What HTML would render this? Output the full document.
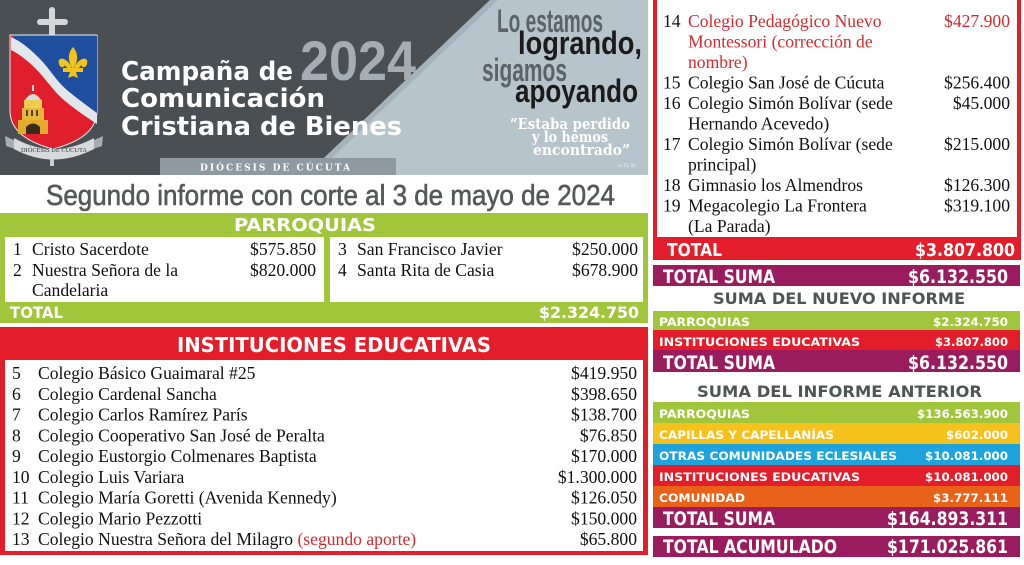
<!DOCTYPE html>
<html>
<head>
<meta charset="utf-8">
<style>
html,body{margin:0;padding:0;background:#fff;}
svg{display:block;}
.tr{font-family:"Liberation Serif","Times New Roman",serif;font-size:17.6px;fill:#111;}
.red{fill:#d42a30;}
.b{font-family:"DejaVu Sans","Liberation Sans",sans-serif;font-weight:bold;fill:#fff;}
</style>
</head>
<body>
<svg width="1024" height="565" viewBox="0 0 1024 565" xmlns="http://www.w3.org/2000/svg">
  <rect width="1024" height="565" fill="#ffffff"/>

  <!-- HEADER -->
  <rect x="0" y="0" width="648" height="175" fill="#4a4f54"/>
  <polygon points="490,0 648,0 648,175 306,175" fill="#b6c4cc"/>
  <polygon points="490,0 498,0 314,175 306,175" fill="#9aa7af" opacity="0.6"/>
  <rect x="160" y="158" width="236" height="17" fill="#8e99a1"/>
  <text x="200" y="170.5" font-family="'DejaVu Serif','Liberation Serif',serif" font-weight="bold" font-size="9" fill="#ffffff" textLength="150" lengthAdjust="spacing">DIÓCESIS DE CÚCUTA</text>

  <!-- 2024 -->
  <text x="300" y="80" font-family="'Liberation Sans',sans-serif" font-weight="bold" font-size="56" fill="#a3adb3" textLength="116" lengthAdjust="spacingAndGlyphs">2024</text>

  <!-- Title -->
  <g font-family="'DejaVu Sans','Liberation Sans',sans-serif" font-weight="bold" font-size="26" fill="#ffffff">
    <text x="121" y="80" textLength="172" lengthAdjust="spacingAndGlyphs">Campaña de</text>
    <text x="121" y="107" textLength="204" lengthAdjust="spacingAndGlyphs">Comunicación</text>
    <text x="121" y="135" textLength="281" lengthAdjust="spacingAndGlyphs">Cristiana de Bienes</text>
  </g>

  <!-- slogan -->
  <g font-family="'Liberation Sans',sans-serif" font-size="32" font-weight="bold">
    <text x="497" y="32" fill="#5b6369" textLength="106" lengthAdjust="spacingAndGlyphs">Lo estamos</text>
    <text x="518" y="54" fill="#1b1b1b" textLength="124" lengthAdjust="spacingAndGlyphs">logrando,</text>
    <text x="482" y="81" fill="#5b6369" textLength="85" lengthAdjust="spacingAndGlyphs">sigamos</text>
    <text x="515" y="102" fill="#1b1b1b" textLength="123" lengthAdjust="spacingAndGlyphs">apoyando</text>
  </g>
  <g font-family="'DejaVu Serif','Liberation Serif',serif" font-weight="bold" font-size="15" fill="#ffffff">
    <text x="510" y="129" textLength="120" lengthAdjust="spacingAndGlyphs">“Estaba perdido</text>
    <text x="532" y="142" textLength="76" lengthAdjust="spacingAndGlyphs">y lo hemos</text>
    <text x="533" y="155" textLength="97" lengthAdjust="spacingAndGlyphs">encontrado”</text>
    <text x="618" y="167" font-size="5" font-weight="normal" textLength="17" lengthAdjust="spacingAndGlyphs">Lc 15, 32</text>
  </g>

  <!-- LOGO -->
  <g>
    <rect x="49" y="9" width="6" height="27" fill="#d3d7da"/>
    <rect x="39" y="19" width="27" height="6" fill="#d3d7da"/>
    <circle cx="52" cy="10" r="3" fill="#d3d7da"/>
    <circle cx="40" cy="22" r="3" fill="#d3d7da"/>
    <circle cx="65" cy="22" r="3" fill="#d3d7da"/>
    <rect x="50" y="140" width="4" height="26" fill="#c8ccce"/>
    <path d="M10,35 L97,35 L97,112 Q96,138 53,149 Q11,138 10,112 Z" fill="#e11f2c" stroke="#e8eaec" stroke-width="1"/>
    <path d="M14,36 L97,36 L97,114 C86,106 78,100 68,92 C56,82 50,70 40,60 C30,50 22,44 14,40 Z" fill="#1f4e9e"/>
    <path d="M11,37 C22,42 30,49 40,59 C50,69 56,81 68,91 C78,99 86,105 97,113 L97,124 C85,116 76,110 65,101 C53,91 46,79 36,69 C27,60 19,54 11,50 Z" fill="#e4e7ea"/>
    <g fill="#f2c318">
      <path d="M73,47 C78,53 79,60 73,70 C67,60 68,53 73,47 Z"/>
      <path d="M71,66 C65,56 57,57 59,64 C60,68 64,68 65,65 C66,68 69,69 71,68 Z"/>
      <path d="M75,66 C81,56 89,57 87,64 C86,68 82,68 81,65 C80,68 77,69 75,68 Z"/>
      <rect x="63" y="68" width="20" height="4"/>
      <path d="M70,72 L76,72 L78,78 L73,76 L68,78 Z"/>
    </g>
    <g>
      <path d="M22,108 L44,108 L44,128 L22,128 Z" fill="#e7b73a"/>
      <path d="M24,100 L42,100 L42,108 L24,108 Z" fill="#f0cc4f"/>
      <path d="M25,100 Q33,88 41,100 Z" fill="#d9dcde"/>
      <rect x="32" y="85" width="2" height="6" fill="#d9dcde"/>
      <rect x="18" y="120" width="30" height="14" fill="#e2ab2e"/>
      <path d="M26,134 L26,127 Q33,120 40,127 L40,134 Z" fill="#3a2a18"/>
      <rect x="26" y="110" width="2" height="6" fill="#5a3f1a"/>
      <rect x="31" y="110" width="2" height="6" fill="#5a3f1a"/>
      <rect x="36" y="110" width="2" height="6" fill="#5a3f1a"/>
    </g>
    <path d="M5,136 L16,141 L18,150 L6,146 Z" fill="#a9adb0"/>
    <path d="M103,136 L92,141 L90,150 L102,146 Z" fill="#a9adb0"/>
    <path d="M14,138 Q53,160 94,138 L94,149 Q53,170 14,149 Z" fill="#d7dadc"/>
    <text x="21" y="152" font-family="'Liberation Serif',serif" font-size="6.5" fill="#333" textLength="66" lengthAdjust="spacingAndGlyphs">DIÓCESIS DE CÚCUTA</text>
  </g>

  <!-- SUBTITLE -->
  <text x="46" y="205" font-family="'Liberation Sans',sans-serif" font-size="29" fill="#555857" stroke="#555857" stroke-width="0.6" textLength="569" lengthAdjust="spacingAndGlyphs">Segundo informe con corte al 3 de mayo de 2024</text>

  <!-- PARROQUIAS -->
  <rect x="0" y="213" width="648" height="110" fill="#a1c53b"/>
  <text class="b" x="234" y="231" font-size="18" textLength="142" lengthAdjust="spacingAndGlyphs">PARROQUIAS</text>
  <rect x="5" y="237" width="319" height="65" fill="#ffffff"/>
  <rect x="330" y="237" width="313" height="65" fill="#ffffff"/>
  <g class="tr">
    <text x="13" y="255">1</text>
    <text x="32" y="255">Cristo Sacerdote</text>
    <text x="316" y="255" text-anchor="end">$575.850</text>
    <text x="13" y="276">2</text>
    <text x="32" y="276">Nuestra Señora de la</text>
    <text x="316" y="276" text-anchor="end">$820.000</text>
    <text x="32" y="296">Candelaria</text>
    <text x="338" y="255">3</text>
    <text x="357" y="255">San Francisco Javier</text>
    <text x="638" y="255" text-anchor="end">$250.000</text>
    <text x="338" y="276">4</text>
    <text x="357" y="276">Santa Rita de Casia</text>
    <text x="638" y="276" text-anchor="end">$678.900</text>
  </g>
  <text class="b" x="10" y="318" font-size="16" textLength="53" lengthAdjust="spacingAndGlyphs">TOTAL</text>
  <text class="b" x="639" y="318" font-size="16" text-anchor="end" textLength="100" lengthAdjust="spacingAndGlyphs">$2.324.750</text>

  <!-- INSTITUCIONES EDUCATIVAS -->
  <rect x="0" y="327" width="648" height="228" fill="#e31e2a"/>
  <rect x="5" y="360" width="638" height="191" fill="#ffffff"/>
  <text class="b" x="177" y="352" font-size="20" textLength="314" lengthAdjust="spacingAndGlyphs">INSTITUCIONES EDUCATIVAS</text>
  <g class="tr">
    <text x="12" y="379">5</text><text x="38" y="379">Colegio Básico Guaimaral #25</text><text x="637" y="379" text-anchor="end">$419.950</text>
    <text x="12" y="399.75">6</text><text x="38" y="399.75">Colegio Cardenal Sancha</text><text x="637" y="399.75" text-anchor="end">$398.650</text>
    <text x="12" y="420.5">7</text><text x="38" y="420.5">Colegio Carlos Ramírez París</text><text x="637" y="420.5" text-anchor="end">$138.700</text>
    <text x="12" y="441.25">8</text><text x="38" y="441.25">Colegio Cooperativo San José de Peralta</text><text x="637" y="441.25" text-anchor="end">$76.850</text>
    <text x="12" y="462">9</text><text x="38" y="462">Colegio Eustorgio Colmenares Baptista</text><text x="637" y="462" text-anchor="end">$170.000</text>
    <text x="12" y="482.75">10</text><text x="38" y="482.75">Colegio Luis Variara</text><text x="637" y="482.75" text-anchor="end">$1.300.000</text>
    <text x="12" y="503.5">11</text><text x="38" y="503.5">Colegio María Goretti (Avenida Kennedy)</text><text x="637" y="503.5" text-anchor="end">$126.050</text>
    <text x="12" y="524.25">12</text><text x="38" y="524.25">Colegio Mario Pezzotti</text><text x="637" y="524.25" text-anchor="end">$150.000</text>
    <text x="12" y="545">13</text><text x="38" y="545">Colegio Nuestra Señora del Milagro <tspan class="red">(segundo aporte)</tspan></text><text x="637" y="545" text-anchor="end">$65.800</text>
  </g>

  <!-- RIGHT PANEL -->
  <rect x="653" y="0" width="368" height="260" fill="#e31e2a"/>
  <rect x="657" y="0" width="360" height="237" fill="#ffffff"/>
  <g class="tr">
    <text x="663" y="27">14</text>
    <text x="688" y="27" class="red">Colegio Pedagógico Nuevo</text>
    <text x="1010" y="27" text-anchor="end" class="red">$427.900</text>
    <text x="688" y="47.5" class="red">Montessori (corrección de</text>
    <text x="688" y="68" class="red">nombre)</text>
    <text x="663" y="88.5">15</text><text x="688" y="88.5">Colegio San José de Cúcuta</text><text x="1010" y="88.5" text-anchor="end">$256.400</text>
    <text x="663" y="109">16</text><text x="688" y="109">Colegio Simón Bolívar (sede</text><text x="1010" y="109" text-anchor="end">$45.000</text>
    <text x="688" y="129.5">Hernando Acevedo)</text>
    <text x="663" y="150">17</text><text x="688" y="150">Colegio Simón Bolívar (sede</text><text x="1010" y="150" text-anchor="end">$215.000</text>
    <text x="688" y="170.5">principal)</text>
    <text x="663" y="191">18</text><text x="688" y="191">Gimnasio los Almendros</text><text x="1010" y="191" text-anchor="end">$126.300</text>
    <text x="663" y="211.5">19</text><text x="688" y="211.5">Megacolegio La Frontera</text><text x="1010" y="211.5" text-anchor="end">$319.100</text>
    <text x="688" y="232">(La Parada)</text>
  </g>
  <text class="b" x="667" y="256" font-size="18" textLength="55" lengthAdjust="spacingAndGlyphs">TOTAL</text>
  <text class="b" x="1015" y="256" font-size="18" text-anchor="end" textLength="100" lengthAdjust="spacingAndGlyphs">$3.807.800</text>

  <rect x="653" y="265" width="367" height="21" fill="#9b1c5e"/>
  <text class="b" x="663" y="283" font-size="19" textLength="112" lengthAdjust="spacingAndGlyphs">TOTAL SUMA</text>
  <text class="b" x="1008" y="283" font-size="19" text-anchor="end" textLength="100" lengthAdjust="spacingAndGlyphs">$6.132.550</text>

  <text x="713" y="304" font-family="'DejaVu Sans','Liberation Sans',sans-serif" font-weight="bold" font-size="16" fill="#4e5553" textLength="252" lengthAdjust="spacingAndGlyphs">SUMA DEL NUEVO INFORME</text>

  <rect x="653" y="311" width="367" height="19" fill="#a1c53b"/>
  <text class="b" x="659" y="326" font-size="11.5" textLength="91" lengthAdjust="spacingAndGlyphs">PARROQUIAS</text>
  <text class="b" x="1008" y="326" font-size="11.5" text-anchor="end" textLength="75" lengthAdjust="spacingAndGlyphs">$2.324.750</text>

  <rect x="653" y="330" width="367" height="20" fill="#e31e2a"/>
  <text class="b" x="659" y="346" font-size="11.5" textLength="201" lengthAdjust="spacingAndGlyphs">INSTITUCIONES EDUCATIVAS</text>
  <text class="b" x="1008" y="346" font-size="11.5" text-anchor="end" textLength="73" lengthAdjust="spacingAndGlyphs">$3.807.800</text>

  <rect x="653" y="350" width="367" height="22" fill="#9b1c5e"/>
  <text class="b" x="663" y="369" font-size="19" textLength="112" lengthAdjust="spacingAndGlyphs">TOTAL SUMA</text>
  <text class="b" x="1008" y="369" font-size="19" text-anchor="end" textLength="100" lengthAdjust="spacingAndGlyphs">$6.132.550</text>

  <text x="697" y="397" font-family="'DejaVu Sans','Liberation Sans',sans-serif" font-weight="bold" font-size="16" fill="#4e5553" textLength="285" lengthAdjust="spacingAndGlyphs">SUMA DEL INFORME ANTERIOR</text>

  <rect x="653" y="402" width="367" height="21" fill="#a1c53b"/>
  <text class="b" x="659" y="418" font-size="11.5" textLength="91" lengthAdjust="spacingAndGlyphs">PARROQUIAS</text>
  <text class="b" x="1008" y="418" font-size="11.5" text-anchor="end" textLength="91" lengthAdjust="spacingAndGlyphs">$136.563.900</text>

  <rect x="653" y="423" width="367" height="21" fill="#f7c11c"/>
  <text class="b" x="659" y="439" font-size="11.5" textLength="175" lengthAdjust="spacingAndGlyphs">CAPILLAS Y CAPELLANÍAS</text>
  <text class="b" x="1008" y="439" font-size="11.5" text-anchor="end" textLength="62" lengthAdjust="spacingAndGlyphs">$602.000</text>

  <rect x="653" y="444" width="367" height="21" fill="#1fa3dc"/>
  <text class="b" x="659" y="460" font-size="11.5" textLength="238" lengthAdjust="spacingAndGlyphs">OTRAS COMUNIDADES ECLESIALES</text>
  <text class="b" x="1008" y="460" font-size="11.5" text-anchor="end" textLength="83" lengthAdjust="spacingAndGlyphs">$10.081.000</text>

  <rect x="653" y="465" width="367" height="21" fill="#e31e2a"/>
  <text class="b" x="659" y="481" font-size="11.5" textLength="201" lengthAdjust="spacingAndGlyphs">INSTITUCIONES EDUCATIVAS</text>
  <text class="b" x="1008" y="481" font-size="11.5" text-anchor="end" textLength="83" lengthAdjust="spacingAndGlyphs">$10.081.000</text>

  <rect x="653" y="486" width="367" height="21" fill="#e8621a"/>
  <text class="b" x="659" y="502" font-size="11.5" textLength="86" lengthAdjust="spacingAndGlyphs">COMUNIDAD</text>
  <text class="b" x="1008" y="502" font-size="11.5" text-anchor="end" textLength="75" lengthAdjust="spacingAndGlyphs">$3.777.111</text>

  <rect x="653" y="507" width="367" height="21" fill="#9b1c5e"/>
  <text class="b" x="663" y="525" font-size="19" textLength="112" lengthAdjust="spacingAndGlyphs">TOTAL SUMA</text>
  <text class="b" x="1008" y="525" font-size="19" text-anchor="end" textLength="121" lengthAdjust="spacingAndGlyphs">$164.893.311</text>

  <rect x="653" y="536" width="367" height="21" fill="#9b1c5e"/>
  <text class="b" x="663" y="553" font-size="19" textLength="174" lengthAdjust="spacingAndGlyphs">TOTAL ACUMULADO</text>
  <text class="b" x="1008" y="553" font-size="19" text-anchor="end" textLength="121" lengthAdjust="spacingAndGlyphs">$171.025.861</text>
</svg>
</body>
</html>
